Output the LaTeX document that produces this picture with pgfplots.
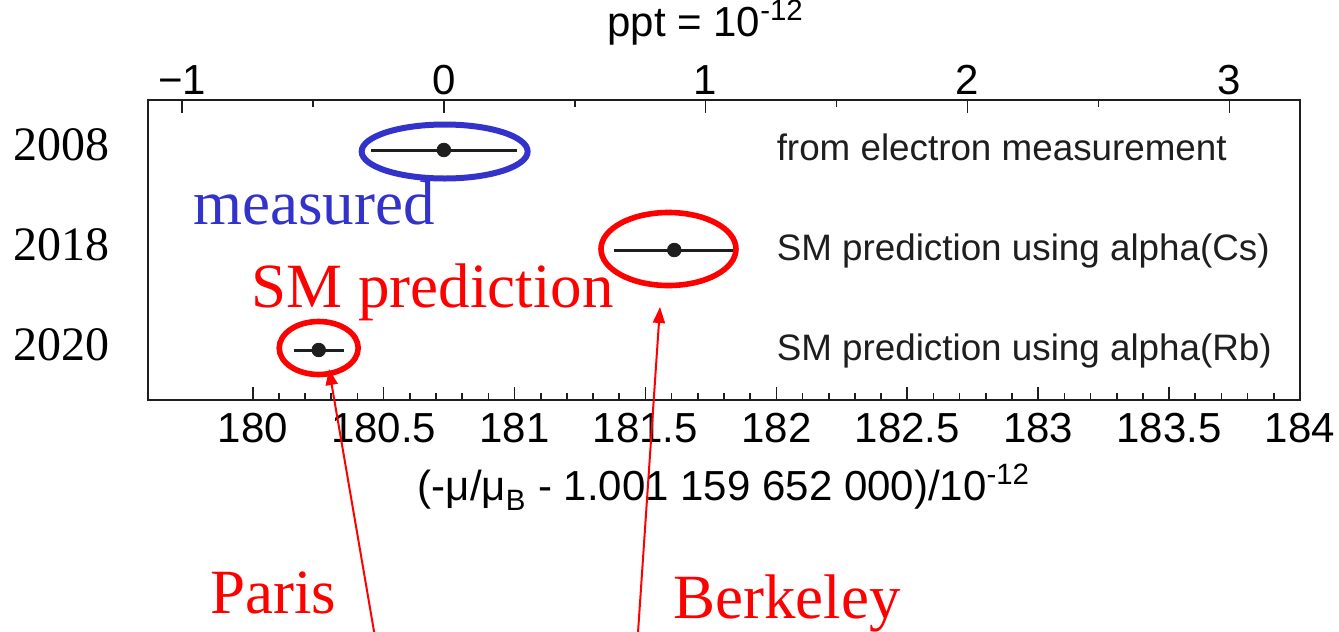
\documentclass[border=0pt]{standalone}
\usepackage{pgfplots}
\pgfplotsset{compat=1.18}
\usepackage{fontspec}
\setmainfont{Liberation Sans}
\newfontfamily\tnr{Liberation Serif}
\usetikzlibrary{arrows.meta}

\definecolor{markblue}{RGB}{51,51,204}
\definecolor{markred}{RGB}{255,0,0}
\definecolor{ink}{RGB}{30,30,30}

\newcommand{\ticksize}{\fontsize{21}{24}\selectfont}
\newcommand{\rowsize}{\fontsize{18.4}{22}\selectfont}
\newcommand{\notesize}{\tnr\fontsize{31.5}{36}\selectfont}

\begin{document}
\begin{tikzpicture}
\useasboundingbox (0,0) rectangle (669.5pt,-316pt);

% main axis: offset of the g-factor from 1.001 159 652 000, in units of 1e-12
\begin{axis}[
  at={(74pt,-200pt)}, anchor=south west,
  width=576pt, height=150pt, scale only axis,
  clip=false,
  xmin=179.6, xmax=184.0, ymin=0.5, ymax=3.5,
  xtick={180,180.5,181,181.5,182,182.5,183,183.5,184},
  xticklabels={180,180.5,181,181.5,182,182.5,183,183.5,184},
  minor x tick num=4,
  xtick pos=left,
  ytick={1,2,3}, yticklabels={2020,2018,2008},
  ytick style={draw=none},
  tick align=inside,
  major tick length=6.5pt, minor tick length=3.5pt,
  every tick/.append style={line width=0.8pt, ink},
  axis line style={line width=1.4pt, ink},
  xticklabel style={font=\ticksize, inner sep=0pt, yshift=-6.5pt},
  yticklabel style={font=\tnr\fontsize{24}{28}\selectfont, inner sep=0pt, xshift=-19pt, yshift=2.5pt},
  xlabel={(-μ/μ\textsubscript{\raisebox{-2pt}{B}} - 1.001 159 652 000)/10\textsuperscript{-12}},
  xlabel style={font=\ticksize, at={(axis description cs:0.5,0)}, anchor=base, yshift=-50pt},
]
  \addplot[only marks, mark=*, mark size=3.4pt, ink, line width=1.5pt,
    mark options={line width=0.4pt},
    error bars/.cd, x dir=both, x explicit,
    error bar style={line width=1.5pt, ink}, error mark=none]
  coordinates {
    (180.73,3)  +- (0.28,0)
    (181.61,2)  +- (0.23,0)
    (180.252,1) +- (0.095,0)
  };

  \node[anchor=base west, inner sep=0pt, font=\rowsize, text=ink, yshift=-5pt]
    at (axis cs:182.0,3) {from electron measurement};
  \node[anchor=base west, inner sep=0pt, font=\rowsize, text=ink, yshift=-5pt]
    at (axis cs:182.0,2) {SM prediction using alpha(Cs)};
  \node[anchor=base west, inner sep=0pt, font=\rowsize, text=ink, yshift=-5pt]
    at (axis cs:182.0,1) {SM prediction using alpha(Rb)};

  % highlight rings
  \draw[markblue, line width=3pt] (axis cs:180.733,2.985) ellipse [x radius=41.5pt, y radius=13.5pt];
  \draw[markred, line width=2.8pt] (axis cs:181.588,2.01) ellipse [x radius=33.75pt, y radius=18.25pt];
  \draw[markred, line width=2.8pt] (axis cs:180.252,1.02) ellipse [x radius=19.75pt, y radius=13.25pt];
\end{axis}

% top scale in ppt, zero at the measured value
\begin{axis}[
  at={(74pt,-200pt)}, anchor=south west,
  width=576pt, height=150pt, scale only axis,
  xmin=-1.13, xmax=3.27, ymin=0, ymax=1,
  axis line style={draw=none},
  xtick={-1,0,1,2,3}, xticklabels={−1,0,1,2,3},
  minor xtick={-0.5,0.5,1.5,2.5},
  xtick pos=right, xticklabel pos=right,
  ytick=\empty,
  tick align=inside,
  major tick length=6.5pt, minor tick length=3.5pt,
  every tick/.append style={line width=0.8pt, ink},
  xticklabel style={font=\ticksize, inner sep=0pt, yshift=2.5pt},
  title={ppt = 10\textsuperscript{-12}},
  title style={font=\ticksize, at={(axis description cs:0.484,1)}, anchor=base, inner sep=0pt, yshift=26pt},
]
\end{axis}

% annotations, in a pixel-like frame
\begin{scope}[x=0.5pt, y=-0.5pt]
  \node[anchor=base west, inner sep=0pt, font=\notesize, text=markblue] at (193,224) {measured};
  \node[anchor=base west, inner sep=0pt, font=\notesize, text=markred] at (251,307) {SM prediction};
  \node[anchor=base west, inner sep=0pt, font=\notesize, text=markred] at (210,613) {Paris};
  \node[anchor=base west, inner sep=0pt, font=\notesize, text=markred] at (673,618) {Berkeley};
  \draw[markred, line width=1pt, -{Triangle[length=8pt, width=6pt]}] (375.5,640) -- (329,369);
  \draw[markred, line width=1pt, -{Triangle[length=8pt, width=6pt]}] (637.5,640) -- (660,307);
\end{scope}
\end{tikzpicture}
\end{document}
